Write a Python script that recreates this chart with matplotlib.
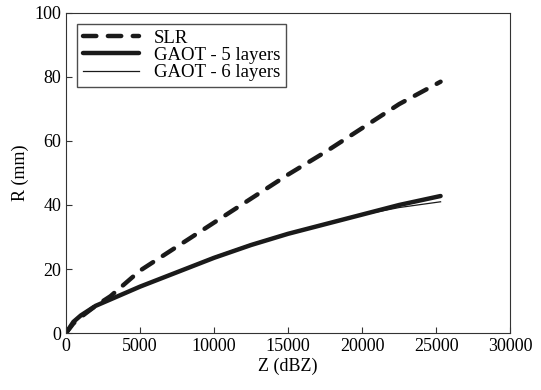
import matplotlib
matplotlib.use("Agg")
import matplotlib.pyplot as plt

plt.rcParams['font.family'] = ['Liberation Serif', 'DejaVu Serif']

Z = [0, 500, 1000, 2000, 3000, 5000, 7500, 10000, 12500, 15000, 17500, 20000, 22500, 25300]
slr = [0, 3, 5, 8.5, 11.5, 19.5, 27, 34.5, 42, 49.5, 56.5, 64, 71.5, 78.5]
gaot5 = [0, 3.5, 5.5, 8.5, 10.5, 14.5, 19, 23.5, 27.5, 31, 34, 37, 40, 42.8]
gaot6 = [0, 3.5, 5.5, 8.5, 10.5, 14.5, 19.2, 23.8, 27.8, 31.2, 34.2, 36.9, 39.2, 41]
labels = ['SLR', 'GAOT - 5 layers', 'GAOT - 6 layers']
xticks = [0, 5000, 10000, 15000, 20000, 25000, 30000]
yticks = [0, 20, 40, 60, 80, 100]

fig = plt.figure(figsize=(5.41, 3.9), dpi=100)
ax = fig.add_axes([0.122, 0.146, 0.821, 0.821])
ax.plot(Z, slr, color='#1a1a1a', lw=3.2, ls=(0, (3, 2.6)), dash_capstyle='round',
        label=labels[0])
ax.plot(Z, gaot5, color='#1a1a1a', lw=3.2, solid_capstyle='round', label=labels[1])
ax.plot(Z, gaot6, color='#1a1a1a', lw=0.9, label=labels[2])
ax.set_xlim(0, 30000)
ax.set_ylim(0, 100)
ax.set_xticks(xticks)
ax.set_yticks(yticks)
ax.tick_params(direction='in', labelsize=13, length=4, color='#333333')
ax.set_xlabel('Z (dBZ)', fontsize=13, labelpad=2)
ax.set_ylabel('R (mm)', fontsize=13, labelpad=4)
for s in ax.spines.values():
    s.set_color('#333333')
leg = ax.legend(loc='upper left', fontsize=13.5, frameon=True, fancybox=False,
                edgecolor='#222222', handlelength=3.0, labelspacing=0.0,
                borderpad=0.3, handletextpad=0.8, borderaxespad=0.6)
leg.get_frame().set_linewidth(1.0)
fig.savefig('out.png', dpi=100)
